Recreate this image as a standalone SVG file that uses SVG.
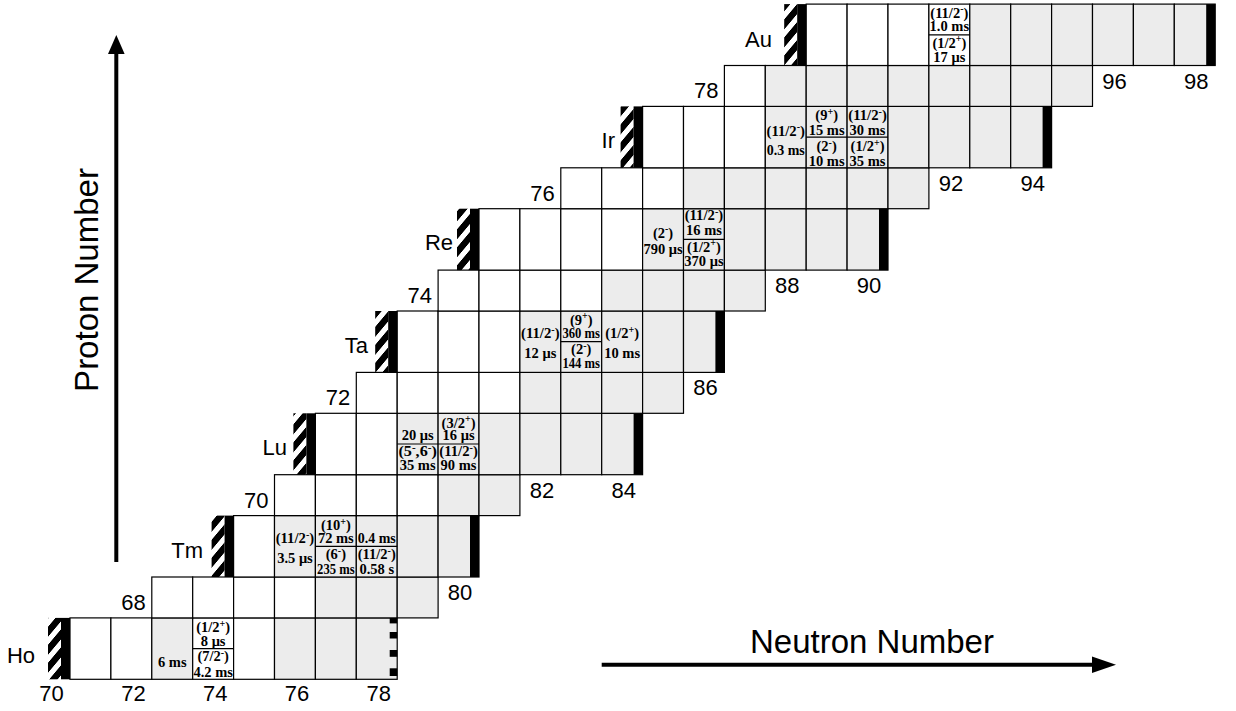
<svg xmlns="http://www.w3.org/2000/svg" width="1236" height="711" viewBox="0 0 1236 711">
<defs>
<pattern id="hatch" patternUnits="userSpaceOnUse" width="18" height="18" patternTransform="skewY(-50)">
<rect x="0" y="0" width="18" height="10" fill="#000"/>
</pattern>
<style>
.w{fill:#fff;stroke:#000;stroke-width:1.2}
.g{fill:#ececec;stroke:#000;stroke-width:1.2}
.sp{stroke:#000;stroke-width:1.2}
.bar{fill:#000}
.hb{fill:url(#hatch)}
.t{font-family:"Liberation Serif","Times New Roman",serif;font-weight:bold;font-size:14.5px;text-anchor:middle;fill:#000}
.sup{font-size:10px}
.el{font-family:"Liberation Sans",Arial,sans-serif;font-size:22px;fill:#000;text-anchor:end}
.num{font-family:"Liberation Sans",Arial,sans-serif;font-size:22px;fill:#000;text-anchor:middle}
.zl{font-family:"Liberation Sans",Arial,sans-serif;font-size:22px;fill:#000;text-anchor:end}
.ax{font-family:"Liberation Sans",Arial,sans-serif;font-size:33px;fill:#000}
</style>
</defs>
<rect width="1236" height="711" fill="#fff"/>

<!-- Ho Z=67 -->
<g id="row-Ho">
<rect class="w" x="70" y="617.9" width="40.9" height="61.4"/>
<rect class="w" x="110.9" y="617.9" width="40.9" height="61.4"/>
<rect class="g" x="151.8" y="617.9" width="40.9" height="61.4"/>
<rect class="w" x="192.7" y="617.9" width="40.9" height="61.4"/>
<rect class="w" x="233.6" y="617.9" width="40.9" height="61.4"/>
<rect class="g" x="274.5" y="617.9" width="40.9" height="61.4"/>
<rect class="g" x="315.4" y="617.9" width="40.9" height="61.4"/>
<rect class="g" x="356.3" y="617.9" width="40.9" height="61.4"/>
<rect class="hb" x="48" y="617.9" width="13" height="61.4"/>
<rect class="bar" x="61" y="617.9" width="9" height="61.4"/>
<rect class="bar" x="389.7" y="617.9" width="7.5" height="5.5"/>
<rect class="bar" x="389.7" y="632" width="7.5" height="6.5"/>
<rect class="bar" x="389.7" y="650" width="7.5" height="6.8"/>
<rect class="bar" x="389.7" y="668.3" width="7.5" height="7.7"/>
<text class="el" x="35" y="663">Ho</text>
</g>
<g id="Ho-140">
<text class="t" x="172.25" y="667">6 ms</text>
</g>
<g id="Ho-141">
<line class="sp" x1="192.7" y1="648.6" x2="233.6" y2="648.6"/>
<text class="t" x="213.15" y="632">(1/2<tspan class="sup" dy="-5.5">+</tspan><tspan dy="5.5">)</tspan></text>
<text class="t" x="213.15" y="645.5">8 μs</text>
<text class="t" x="213.15" y="661">(7/2<tspan class="sup" dy="-5.5">-</tspan><tspan dy="5.5">)</tspan></text>
<text class="t" x="213.15" y="677">4.2 ms</text>
</g>

<!-- Er Z=68 -->
<g id="row-Er">
<rect class="w" x="151.8" y="577" width="40.9" height="40.9"/>
<rect class="w" x="192.7" y="577" width="40.9" height="40.9"/>
<rect class="w" x="233.6" y="577" width="40.9" height="40.9"/>
<rect class="w" x="274.5" y="577" width="40.9" height="40.9"/>
<rect class="g" x="315.4" y="577" width="40.9" height="40.9"/>
<rect class="g" x="356.3" y="577" width="40.9" height="40.9"/>
<rect class="g" x="397.2" y="577" width="40.9" height="40.9"/>
<text class="zl" x="145.8" y="609.9">68</text>
<text class="num" x="460.1" y="600">80</text>
</g>

<!-- Tm Z=69 -->
<g id="row-Tm">
<rect class="w" x="233.6" y="515.6" width="40.9" height="61.4"/>
<rect class="g" x="274.5" y="515.6" width="40.9" height="61.4"/>
<rect class="g" x="315.4" y="515.6" width="40.9" height="61.4"/>
<rect class="g" x="356.3" y="515.6" width="40.9" height="61.4"/>
<rect class="g" x="397.2" y="515.6" width="40.9" height="61.4"/>
<rect class="g" x="438.1" y="515.6" width="40.9" height="61.4"/>
<rect class="hb" x="211.6" y="515.6" width="13" height="61.4"/>
<rect class="bar" x="224.6" y="515.6" width="9" height="61.4"/>
<rect class="bar" x="470" y="515.6" width="9" height="61.4"/>
<text class="el" x="203" y="558">Tm</text>
</g>
<g id="Tm-145">
<text class="t" x="294.95" y="543" textLength="38.5" lengthAdjust="spacingAndGlyphs">(11/2<tspan class="sup" dy="-5.5">-</tspan><tspan dy="5.5">)</tspan></text>
<text class="t" x="294.95" y="563">3.5 μs</text>
</g>
<g id="Tm-146">
<line class="sp" x1="315.4" y1="546.3" x2="356.3" y2="546.3"/>
<text class="t" x="335.85" y="530">(10<tspan class="sup" dy="-5.5">+</tspan><tspan dy="5.5">)</tspan></text>
<text class="t" x="335.85" y="543">72 ms</text>
<text class="t" x="335.85" y="559">(6<tspan class="sup" dy="-5.5">-</tspan><tspan dy="5.5">)</tspan></text>
<text class="t" x="335.85" y="573.5" textLength="37.5" lengthAdjust="spacingAndGlyphs">235 ms</text>
</g>
<g id="Tm-147">
<line class="sp" x1="356.3" y1="546.3" x2="397.2" y2="546.3"/>
<text class="t" x="376.75" y="543" textLength="38" lengthAdjust="spacingAndGlyphs">0.4 ms</text>
<text class="t" x="376.75" y="559" textLength="38" lengthAdjust="spacingAndGlyphs">(11/2<tspan class="sup" dy="-5.5">-</tspan><tspan dy="5.5">)</tspan></text>
<text class="t" x="376.75" y="573.5">0.58 s</text>
</g>

<!-- Yb Z=70 -->
<g id="row-Yb">
<rect class="w" x="274.5" y="474.7" width="40.9" height="40.9"/>
<rect class="w" x="315.4" y="474.7" width="40.9" height="40.9"/>
<rect class="w" x="356.3" y="474.7" width="40.9" height="40.9"/>
<rect class="w" x="397.2" y="474.7" width="40.9" height="40.9"/>
<rect class="g" x="438.1" y="474.7" width="40.9" height="40.9"/>
<rect class="g" x="479" y="474.7" width="40.9" height="40.9"/>
<text class="zl" x="268.5" y="507.6">70</text>
<text class="num" x="541.9" y="497.7">82</text>
<text class="num" x="623.7" y="497.7">84</text>
</g>

<!-- Lu Z=71 -->
<g id="row-Lu">
<rect class="w" x="315.4" y="413.3" width="40.9" height="61.4"/>
<rect class="w" x="356.3" y="413.3" width="40.9" height="61.4"/>
<rect class="g" x="397.2" y="413.3" width="40.9" height="61.4"/>
<rect class="g" x="438.1" y="413.3" width="40.9" height="61.4"/>
<rect class="g" x="479" y="413.3" width="40.9" height="61.4"/>
<rect class="g" x="519.9" y="413.3" width="40.9" height="61.4"/>
<rect class="g" x="560.8" y="413.3" width="40.9" height="61.4"/>
<rect class="g" x="601.7" y="413.3" width="40.9" height="61.4"/>
<rect class="hb" x="293.4" y="413.3" width="13" height="61.4"/>
<rect class="bar" x="306.4" y="413.3" width="9" height="61.4"/>
<rect class="bar" x="633.6" y="413.3" width="9" height="61.4"/>
<text class="el" x="287" y="455">Lu</text>
</g>
<g id="Lu-150">
<line class="sp" x1="397.2" y1="444" x2="438.1" y2="444"/>
<text class="t" x="417.65" y="440">20 μs</text>
<text class="t" x="417.65" y="456" textLength="38.5" lengthAdjust="spacingAndGlyphs">(5<tspan class="sup" dy="-5.5">-</tspan><tspan dy="5.5">,6</tspan><tspan class="sup" dy="-5.5">-</tspan><tspan dy="5.5">)</tspan></text>
<text class="t" x="417.65" y="470">35 ms</text>
</g>
<g id="Lu-151">
<line class="sp" x1="438.1" y1="444" x2="479" y2="444"/>
<text class="t" x="458.55" y="427.5">(3/2<tspan class="sup" dy="-5.5">+</tspan><tspan dy="5.5">)</tspan></text>
<text class="t" x="458.55" y="440">16 μs</text>
<text class="t" x="458.55" y="456" textLength="38.5" lengthAdjust="spacingAndGlyphs">(11/2<tspan class="sup" dy="-5.5">-</tspan><tspan dy="5.5">)</tspan></text>
<text class="t" x="458.55" y="470">90 ms</text>
</g>

<!-- Hf Z=72 -->
<g id="row-Hf">
<rect class="w" x="356.3" y="372.4" width="40.9" height="40.9"/>
<rect class="w" x="397.2" y="372.4" width="40.9" height="40.9"/>
<rect class="w" x="438.1" y="372.4" width="40.9" height="40.9"/>
<rect class="w" x="479" y="372.4" width="40.9" height="40.9"/>
<rect class="g" x="519.9" y="372.4" width="40.9" height="40.9"/>
<rect class="g" x="560.8" y="372.4" width="40.9" height="40.9"/>
<rect class="g" x="601.7" y="372.4" width="40.9" height="40.9"/>
<rect class="g" x="642.6" y="372.4" width="40.9" height="40.9"/>
<text class="zl" x="350.3" y="405.3">72</text>
<text class="num" x="705.5" y="395.4">86</text>
</g>

<!-- Ta Z=73 -->
<g id="row-Ta">
<rect class="w" x="397.2" y="311" width="40.9" height="61.4"/>
<rect class="w" x="438.1" y="311" width="40.9" height="61.4"/>
<rect class="w" x="479" y="311" width="40.9" height="61.4"/>
<rect class="g" x="519.9" y="311" width="40.9" height="61.4"/>
<rect class="g" x="560.8" y="311" width="40.9" height="61.4"/>
<rect class="g" x="601.7" y="311" width="40.9" height="61.4"/>
<rect class="g" x="642.6" y="311" width="40.9" height="61.4"/>
<rect class="g" x="683.5" y="311" width="40.9" height="61.4"/>
<rect class="hb" x="375.2" y="311" width="13" height="61.4"/>
<rect class="bar" x="388.2" y="311" width="9" height="61.4"/>
<rect class="bar" x="715.4" y="311" width="9" height="61.4"/>
<text class="el" x="368" y="353">Ta</text>
</g>
<g id="Ta-155">
<text class="t" x="540.35" y="338" textLength="38.5" lengthAdjust="spacingAndGlyphs">(11/2<tspan class="sup" dy="-5.5">-</tspan><tspan dy="5.5">)</tspan></text>
<text class="t" x="540.35" y="358">12 μs</text>
</g>
<g id="Ta-156">
<line class="sp" x1="560.8" y1="341.7" x2="601.7" y2="341.7"/>
<text class="t" x="581.25" y="324.5">(9<tspan class="sup" dy="-5.5">+</tspan><tspan dy="5.5">)</tspan></text>
<text class="t" x="581.25" y="338" textLength="37.5" lengthAdjust="spacingAndGlyphs">360 ms</text>
<text class="t" x="581.25" y="354">(2<tspan class="sup" dy="-5.5">-</tspan><tspan dy="5.5">)</tspan></text>
<text class="t" x="581.25" y="368" textLength="37.5" lengthAdjust="spacingAndGlyphs">144 ms</text>
</g>
<g id="Ta-157">
<text class="t" x="622.15" y="338">(1/2<tspan class="sup" dy="-5.5">+</tspan><tspan dy="5.5">)</tspan></text>
<text class="t" x="622.15" y="358">10 ms</text>
</g>

<!-- W Z=74 -->
<g id="row-W">
<rect class="w" x="438.1" y="270.1" width="40.9" height="40.9"/>
<rect class="w" x="479" y="270.1" width="40.9" height="40.9"/>
<rect class="w" x="519.9" y="270.1" width="40.9" height="40.9"/>
<rect class="w" x="560.8" y="270.1" width="40.9" height="40.9"/>
<rect class="g" x="601.7" y="270.1" width="40.9" height="40.9"/>
<rect class="g" x="642.6" y="270.1" width="40.9" height="40.9"/>
<rect class="g" x="683.5" y="270.1" width="40.9" height="40.9"/>
<rect class="g" x="724.4" y="270.1" width="40.9" height="40.9"/>
<text class="zl" x="432.1" y="303">74</text>
<text class="num" x="787.3" y="293.1">88</text>
<text class="num" x="869.1" y="293.1">90</text>
</g>

<!-- Re Z=75 -->
<g id="row-Re">
<rect class="w" x="479" y="208.7" width="40.9" height="61.4"/>
<rect class="w" x="519.9" y="208.7" width="40.9" height="61.4"/>
<rect class="w" x="560.8" y="208.7" width="40.9" height="61.4"/>
<rect class="w" x="601.7" y="208.7" width="40.9" height="61.4"/>
<rect class="g" x="642.6" y="208.7" width="40.9" height="61.4"/>
<rect class="g" x="683.5" y="208.7" width="40.9" height="61.4"/>
<rect class="g" x="724.4" y="208.7" width="40.9" height="61.4"/>
<rect class="g" x="765.3" y="208.7" width="40.9" height="61.4"/>
<rect class="g" x="806.2" y="208.7" width="40.9" height="61.4"/>
<rect class="g" x="847.1" y="208.7" width="40.9" height="61.4"/>
<rect class="hb" x="457" y="208.7" width="13" height="61.4"/>
<rect class="bar" x="470" y="208.7" width="9" height="61.4"/>
<rect class="bar" x="879" y="208.7" width="9" height="61.4"/>
<text class="el" x="453" y="250">Re</text>
</g>
<g id="Re-160">
<text class="t" x="663.05" y="237.5">(2<tspan class="sup" dy="-5.5">-</tspan><tspan dy="5.5">)</tspan></text>
<text class="t" x="663.05" y="253.5">790 μs</text>
</g>
<g id="Re-161">
<line class="sp" x1="683.5" y1="239.4" x2="724.4" y2="239.4"/>
<text class="t" x="703.95" y="220" textLength="38.5" lengthAdjust="spacingAndGlyphs">(11/2<tspan class="sup" dy="-5.5">-</tspan><tspan dy="5.5">)</tspan></text>
<text class="t" x="703.95" y="235">16 ms</text>
<text class="t" x="703.95" y="251.5">(1/2<tspan class="sup" dy="-5.5">+</tspan><tspan dy="5.5">)</tspan></text>
<text class="t" x="703.95" y="266">370 μs</text>
</g>

<!-- Os Z=76 -->
<g id="row-Os">
<rect class="w" x="560.8" y="167.8" width="40.9" height="40.9"/>
<rect class="w" x="601.7" y="167.8" width="40.9" height="40.9"/>
<rect class="w" x="642.6" y="167.8" width="40.9" height="40.9"/>
<rect class="g" x="683.5" y="167.8" width="40.9" height="40.9"/>
<rect class="g" x="724.4" y="167.8" width="40.9" height="40.9"/>
<rect class="g" x="765.3" y="167.8" width="40.9" height="40.9"/>
<rect class="g" x="806.2" y="167.8" width="40.9" height="40.9"/>
<rect class="g" x="847.1" y="167.8" width="40.9" height="40.9"/>
<rect class="g" x="888" y="167.8" width="40.9" height="40.9"/>
<text class="zl" x="554.8" y="200.7">76</text>
<text class="num" x="950.9" y="190.8">92</text>
<text class="num" x="1032.7" y="190.8">94</text>
</g>

<!-- Ir Z=77 -->
<g id="row-Ir">
<rect class="w" x="642.6" y="106.4" width="40.9" height="61.4"/>
<rect class="w" x="683.5" y="106.4" width="40.9" height="61.4"/>
<rect class="w" x="724.4" y="106.4" width="40.9" height="61.4"/>
<rect class="g" x="765.3" y="106.4" width="40.9" height="61.4"/>
<rect class="g" x="806.2" y="106.4" width="40.9" height="61.4"/>
<rect class="g" x="847.1" y="106.4" width="40.9" height="61.4"/>
<rect class="g" x="888" y="106.4" width="40.9" height="61.4"/>
<rect class="g" x="928.9" y="106.4" width="40.9" height="61.4"/>
<rect class="g" x="969.8" y="106.4" width="40.9" height="61.4"/>
<rect class="g" x="1010.7" y="106.4" width="40.9" height="61.4"/>
<rect class="hb" x="620.6" y="106.4" width="13" height="61.4"/>
<rect class="bar" x="633.6" y="106.4" width="9" height="61.4"/>
<rect class="bar" x="1042.6" y="106.4" width="9" height="61.4"/>
<text class="el" x="615" y="148">Ir</text>
</g>
<g id="Ir-165">
<text class="t" x="785.75" y="135.5" textLength="38.5" lengthAdjust="spacingAndGlyphs">(11/2<tspan class="sup" dy="-5.5">-</tspan><tspan dy="5.5">)</tspan></text>
<text class="t" x="785.75" y="155" textLength="38" lengthAdjust="spacingAndGlyphs">0.3 ms</text>
</g>
<g id="Ir-166">
<line class="sp" x1="806.2" y1="137.1" x2="847.1" y2="137.1"/>
<text class="t" x="826.65" y="120">(9<tspan class="sup" dy="-5.5">+</tspan><tspan dy="5.5">)</tspan></text>
<text class="t" x="826.65" y="134.5">15 ms</text>
<text class="t" x="826.65" y="151">(2<tspan class="sup" dy="-5.5">-</tspan><tspan dy="5.5">)</tspan></text>
<text class="t" x="826.65" y="165.5">10 ms</text>
</g>
<g id="Ir-167">
<line class="sp" x1="847.1" y1="137.1" x2="888" y2="137.1"/>
<text class="t" x="867.55" y="120" textLength="38.5" lengthAdjust="spacingAndGlyphs">(11/2<tspan class="sup" dy="-5.5">-</tspan><tspan dy="5.5">)</tspan></text>
<text class="t" x="867.55" y="134.5">30 ms</text>
<text class="t" x="867.55" y="151">(1/2<tspan class="sup" dy="-5.5">+</tspan><tspan dy="5.5">)</tspan></text>
<text class="t" x="867.55" y="165.5">35 ms</text>
</g>

<!-- Pt Z=78 -->
<g id="row-Pt">
<rect class="w" x="724.4" y="65.5" width="40.9" height="40.9"/>
<rect class="g" x="765.3" y="65.5" width="40.9" height="40.9"/>
<rect class="g" x="806.2" y="65.5" width="40.9" height="40.9"/>
<rect class="g" x="847.1" y="65.5" width="40.9" height="40.9"/>
<rect class="g" x="888" y="65.5" width="40.9" height="40.9"/>
<rect class="g" x="928.9" y="65.5" width="40.9" height="40.9"/>
<rect class="g" x="969.8" y="65.5" width="40.9" height="40.9"/>
<rect class="g" x="1010.7" y="65.5" width="40.9" height="40.9"/>
<rect class="g" x="1051.6" y="65.5" width="40.9" height="40.9"/>
<text class="zl" x="718.4" y="98.4">78</text>
<text class="num" x="1114.5" y="88.5">96</text>
<text class="num" x="1196.3" y="88.5">98</text>
</g>

<!-- Au Z=79 -->
<g id="row-Au">
<rect class="w" x="806.2" y="4.1" width="40.9" height="61.4"/>
<rect class="w" x="847.1" y="4.1" width="40.9" height="61.4"/>
<rect class="w" x="888" y="4.1" width="40.9" height="61.4"/>
<rect class="w" x="928.9" y="4.1" width="40.9" height="61.4"/>
<rect class="g" x="969.8" y="4.1" width="40.9" height="61.4"/>
<rect class="g" x="1010.7" y="4.1" width="40.9" height="61.4"/>
<rect class="g" x="1051.6" y="4.1" width="40.9" height="61.4"/>
<rect class="g" x="1092.5" y="4.1" width="40.9" height="61.4"/>
<rect class="g" x="1133.4" y="4.1" width="40.9" height="61.4"/>
<rect class="g" x="1174.3" y="4.1" width="40.9" height="61.4"/>
<rect class="hb" x="784.2" y="4.1" width="13" height="61.4"/>
<rect class="bar" x="797.2" y="4.1" width="9" height="61.4"/>
<rect class="bar" x="1206.2" y="4.1" width="9" height="61.4"/>
<text class="el" x="772" y="46.5">Au</text>
</g>
<g id="Au-171">
<line class="sp" x1="928.9" y1="34.8" x2="969.8" y2="34.8"/>
<text class="t" x="949.35" y="17.5" textLength="38" lengthAdjust="spacingAndGlyphs">(11/2<tspan class="sup" dy="-5.5">-</tspan><tspan dy="5.5">)</tspan></text>
<text class="t" x="949.35" y="31">1.0 ms</text>
<text class="t" x="949.35" y="47.5">(1/2<tspan class="sup" dy="-5.5">+</tspan><tspan dy="5.5">)</tspan></text>
<text class="t" x="949.35" y="61.5">17 μs</text>
</g>

<!-- bottom neutron labels -->
<g id="n-labels">
<text class="num" x="51.5" y="701">70</text>
<text class="num" x="133.4" y="701">72</text>
<text class="num" x="215.2" y="701">74</text>
<text class="num" x="297" y="701">76</text>
<text class="num" x="378.8" y="701">78</text>
</g>

<!-- axes -->
<g id="axes">
<line x1="116.3" y1="562" x2="116.3" y2="50" stroke="#000" stroke-width="4"/>
<polygon points="116.3,35 108,54 124.6,54" fill="#000"/>
<text class="ax" transform="translate(98,280) rotate(-90)" text-anchor="middle">Proton Number</text>
<line x1="601.7" y1="664.7" x2="1096" y2="664.7" stroke="#000" stroke-width="4"/>
<polygon points="1116,664.7 1092,656.4 1092,673" fill="#000"/>
<text class="ax" x="750" y="653">Neutron Number</text>
</g>
</svg>
